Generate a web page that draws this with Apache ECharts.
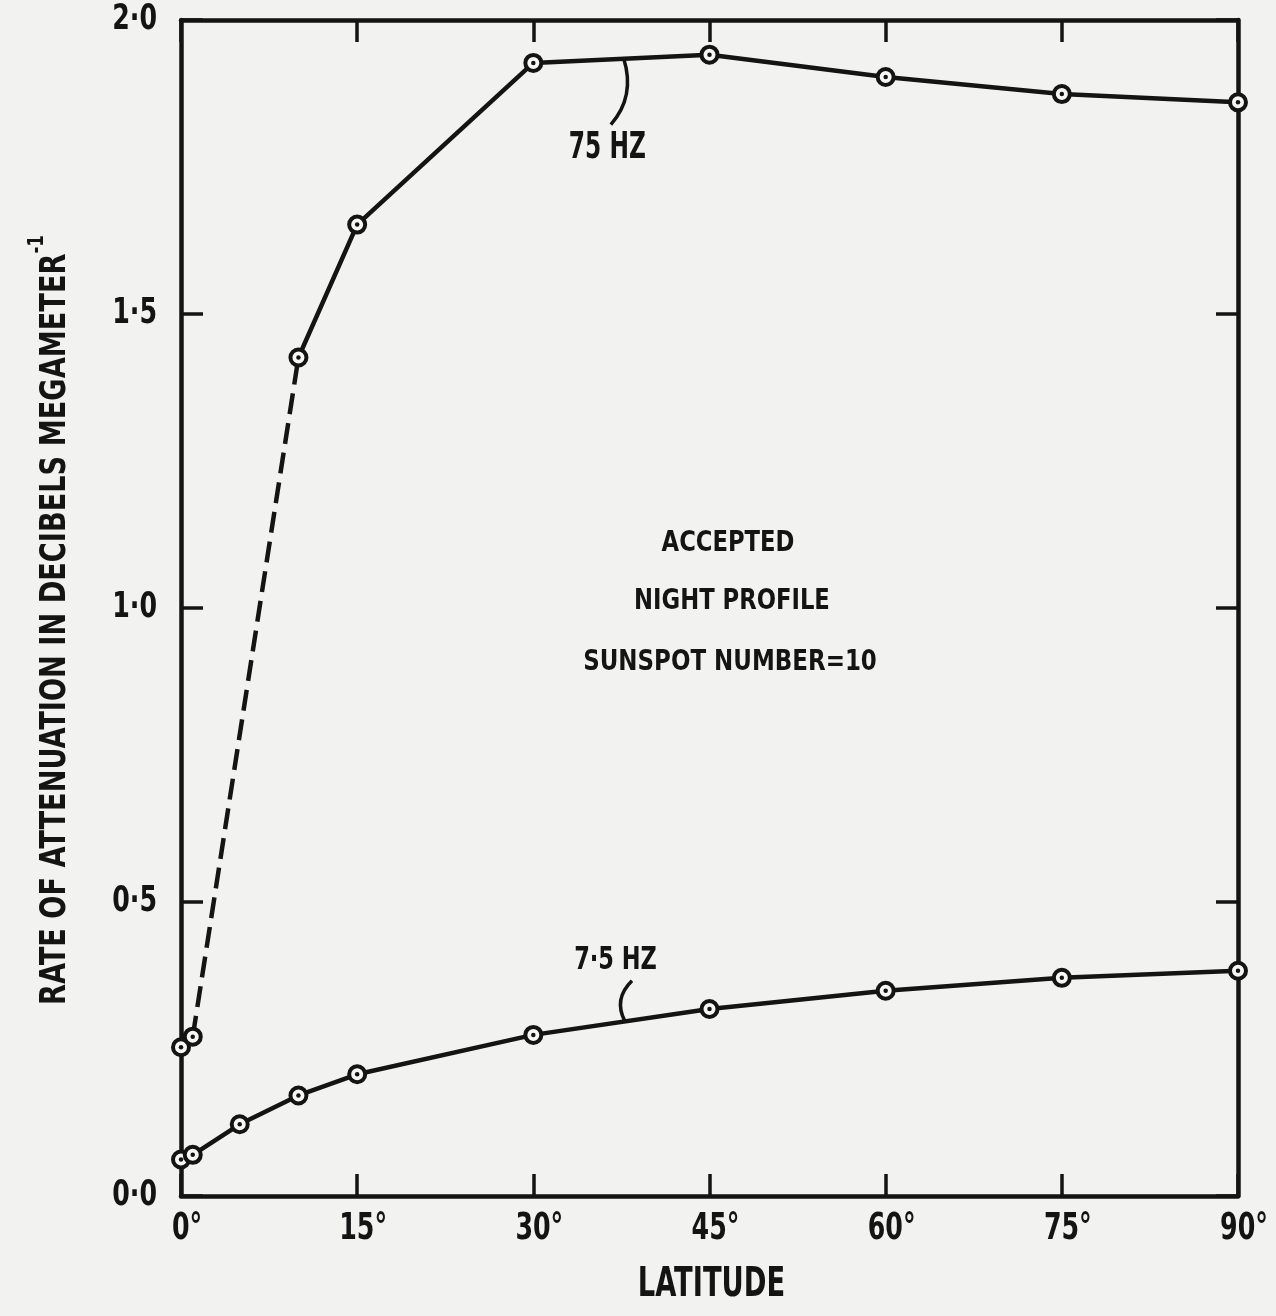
<!DOCTYPE html>
<html>
<head>
<meta charset="utf-8">
<title>Rate of attenuation vs latitude</title>
<script src="https://cdn.jsdelivr.net/npm/echarts@6/dist/echarts.min.js"></script>
<style>
  html, body { margin: 0; padding: 0; background: #f2f2f0; }
  #chart { width: 1276px; height: 1316px; }
</style>
</head>
<body>
<div id="chart"></div>
<script>
// Latitude (degrees) and attenuation rate (dB per megameter)
const latitude75 = [0, 1, 10, 15, 30, 45, 60, 75, 90];
const rate75 = [0.253, 0.271, 1.426, 1.652, 1.927, 1.941, 1.903, 1.874, 1.860];
// 75 Hz segment between these two points is drawn dashed
const dashedFrom75 = 1;
const dashedTo75 = 2;

const latitude7_5 = [0, 1, 5, 10, 15, 30, 45, 60, 75, 90];
const rate7_5 = [0.062, 0.070, 0.122, 0.171, 0.207, 0.274, 0.318, 0.349, 0.371, 0.383];

// Tick values and their labels
const xTicks = [0, 15, 30, 45, 60, 75, 90];
const xTickLabels = ['0°', '15°', '30°', '45°', '60°', '75°', '90°'];
const yTicks = [0, 0.5, 1, 1.5, 2];
const yTickLabels = ['0·0', '0·5', '1·0', '1·5', '2·0'];

// Curve names and the annotation block
const curveName75 = '75 HZ';
const curveName7_5 = '7·5 HZ';
const noteLines = ['ACCEPTED', 'NIGHT PROFILE', 'SUNSPOT NUMBER=10'];
const xTitle = 'LATITUDE';
const yTitle = 'RATE OF ATTENUATION IN DECIBELS MEGAMETER';
const yTitleSup = '-1';

// Curve-label anchors in data units: [latitude, rate]
const label75At = [36.3, 1.782];
const leader75 = { start: [37.7, 1.934], ctrl: [38.7, 1.87], end: [36.6, 1.822] };
const label7_5At = [37.0, 0.40];
const leader7_5 = { start: [37.8, 0.297], ctrl: [36.8, 0.335], end: [38.4, 0.366] };

const INK = '#141414';
const FONT = "'DejaVu Sans Condensed', 'DejaVu Sans', sans-serif";

function pairs(xs, ys, from, to) {
  const out = [];
  for (let i = from; i <= to; i++) out.push([xs[i], ys[i]]);
  return out;
}

const all75 = pairs(latitude75, rate75, 0, latitude75.length - 1);
const all7_5 = pairs(latitude7_5, rate7_5, 0, latitude7_5.length - 1);

const chart = echarts.init(document.getElementById('chart'), null, { renderer: 'canvas' });

const lineStyleSolid = { color: INK, width: 4.5, cap: 'round', join: 'round' };

const baseX = {
  type: 'value', min: 0, max: 90, interval: 15,
  splitLine: { show: false },
  axisLabel: { show: false },
  axisLine: { show: true, onZero: false, lineStyle: { color: INK, width: 4.5 } },
  axisTick: { show: true, inside: true, length: 22, lineStyle: { color: INK, width: 3.5 } }
};
const baseY = {
  type: 'value', min: 0, max: 2, interval: 0.5,
  splitLine: { show: false },
  axisLabel: { show: false },
  axisLine: { show: true, onZero: false, lineStyle: { color: INK, width: 4.5 } },
  axisTick: { show: true, inside: true, length: 22, lineStyle: { color: INK, width: 3.5 } }
};

const ringStyle = { color: '#f7f7f5', borderColor: INK, borderWidth: 4, opacity: 1 };

const option = {
  backgroundColor: '#f2f2f0',
  animation: false,
  grid: { left: 181, right: 38, top: 20, bottom: 120, containLabel: false },
  xAxis: [
    Object.assign({}, baseX, { position: 'bottom' }),
    Object.assign({}, baseX, { position: 'top' })
  ],
  yAxis: [
    Object.assign({}, baseY, { position: 'left' }),
    Object.assign({}, baseY, { position: 'right' })
  ],
  series: [
    {
      name: curveName75, type: 'line', xAxisIndex: 0, yAxisIndex: 0,
      data: pairs(latitude75, rate75, 0, dashedFrom75),
      showSymbol: false, symbol: 'none', lineStyle: lineStyleSolid, z: 2
    },
    {
      name: curveName75 + ' (extrapolated)', type: 'line', xAxisIndex: 0, yAxisIndex: 0,
      data: pairs(latitude75, rate75, dashedFrom75, dashedTo75),
      showSymbol: false, symbol: 'none',
      lineStyle: { color: INK, width: 4.5, type: [21, 9], cap: 'butt' }, z: 2
    },
    {
      name: curveName75, type: 'line', xAxisIndex: 0, yAxisIndex: 0,
      data: pairs(latitude75, rate75, dashedTo75, latitude75.length - 1),
      showSymbol: false, symbol: 'none', lineStyle: lineStyleSolid, z: 2
    },
    {
      name: curveName7_5, type: 'line', xAxisIndex: 0, yAxisIndex: 0,
      data: all7_5,
      showSymbol: false, symbol: 'none', lineStyle: lineStyleSolid, z: 2
    },
    // plotted points: open ring with centre dot
    {
      type: 'scatter', xAxisIndex: 0, yAxisIndex: 0,
      data: all75.concat(all7_5),
      symbol: 'circle', symbolSize: 16,
      itemStyle: ringStyle, z: 5
    },
    {
      type: 'scatter', xAxisIndex: 0, yAxisIndex: 0,
      data: all75.concat(all7_5),
      symbol: 'circle', symbolSize: 4.5,
      itemStyle: { color: INK, opacity: 1 }, z: 6
    }
  ]
};

chart.setOption(option);

// Text is placed through the chart's own coordinate conversion
function px(p) { return chart.convertToPixel({ xAxisIndex: 0, yAxisIndex: 0 }, p); }

function leaderShape(l) {
  const a = px(l.start), c = px(l.ctrl), b = px(l.end);
  return { x1: a[0], y1: a[1], cpx1: c[0], cpy1: c[1], x2: b[0], y2: b[1] };
}

function txt(text, x, y, size, sx, align, vAlign, extra) {
  return Object.assign({
    type: 'text', x: x, y: y, scaleX: sx, z: 10,
    style: {
      text: text, fill: INK, fontFamily: FONT, fontWeight: 'bold', fontSize: size,
      align: align || 'center', verticalAlign: vAlign || 'middle'
    }
  }, extra || {});
}

const graphics = [];

// tick labels
const x0 = px([0, 0]);
xTicks.forEach((t, i) => {
  const p = px([t, 0]);
  graphics.push(txt(xTickLabels[i], p[0] + 6, p[1] + 15, 37, 0.76, 'center', 'top'));
});
yTicks.forEach((t, i) => {
  const p = px([0, t]);
  graphics.push(txt(yTickLabels[i], p[0] - 24, p[1], 36, 0.78, 'right', 'middle'));
});

// axis titles
const gridMid = px([45, 1]);
graphics.push(txt(xTitle, gridMid[0] + 2, x0[1] + 90, 40, 0.76, 'center', 'middle'));
graphics.push({
  type: 'text', x: 50, y: gridMid[1] + 12, rotation: Math.PI / 2, scaleX: 0.84, z: 10,
  style: {
    text: '{t|' + yTitle + '}{s|' + yTitleSup + '}',
    align: 'center', verticalAlign: 'middle',
    rich: {
      t: { fontSize: 36, fontFamily: FONT, fontWeight: 'bold', fill: INK, verticalAlign: 'bottom', lineHeight: 48 },
      s: { fontSize: 22, fontFamily: FONT, fontWeight: 'bold', fill: INK, verticalAlign: 'top', lineHeight: 48 }
    }
  }
});

// curve labels with curved leaders
const l75 = px(label75At);
const l7_5 = px(label7_5At);
graphics.push({ type: 'bezierCurve', shape: leaderShape(leader75), style: { stroke: INK, lineWidth: 3.5, fill: null }, z: 10 });
graphics.push({ type: 'bezierCurve', shape: leaderShape(leader7_5), style: { stroke: INK, lineWidth: 3.5, fill: null }, z: 10 });
graphics.push(txt(curveName75, l75[0], l75[1], 37, 0.7));
graphics.push(txt(curveName7_5, l7_5[0], l7_5[1], 32, 0.78));

// annotation block
graphics.push(txt(noteLines[0], 728, 543, 29, 0.87));
graphics.push(txt(noteLines[1], 732, 601, 29, 0.87));
graphics.push(txt(noteLines[2], 730, 662, 29, 0.88));

chart.setOption({ graphic: graphics });
</script>
</body>
</html>
